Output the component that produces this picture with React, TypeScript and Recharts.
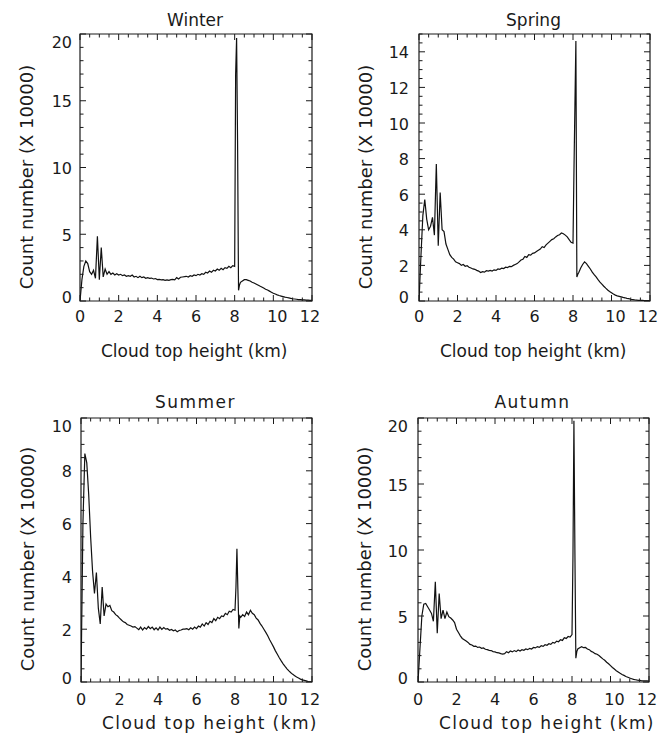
import React from "react";
import { LineChart, Line, XAxis, YAxis, ReferenceArea } from "recharts";

// cloud top height bins (km)
const heights = [
  0, 0.1, 0.2, 0.3, 0.4, 0.5, 0.6, 0.7, 0.8, 0.9,
  1.0, 1.1, 1.2, 1.3, 1.4, 1.5, 1.6, 1.7, 1.8, 1.9,
  2.0, 2.1, 2.2, 2.3, 2.4, 2.5, 2.6, 2.7, 2.8, 2.9,
  3.0, 3.1, 3.2, 3.3, 3.4, 3.5, 3.6, 3.7, 3.8, 3.9,
  4.0, 4.1, 4.2, 4.3, 4.4, 4.5, 4.6, 4.7, 4.8, 4.9,
  5.0, 5.1, 5.2, 5.3, 5.4, 5.5, 5.6, 5.7, 5.8, 5.9,
  6.0, 6.1, 6.2, 6.3, 6.4, 6.5, 6.6, 6.7, 6.8, 6.9,
  7.0, 7.1, 7.2, 7.3, 7.4, 7.5, 7.6, 7.7, 7.8, 7.9,
  8.0, 8.05, 8.1, 8.15, 8.2, 8.25, 8.3,
  8.4, 8.5, 8.6, 8.7, 8.8, 8.9,
  9.0, 9.1, 9.2, 9.3, 9.4, 9.5, 9.6, 9.7, 9.8, 9.9,
  10.0, 10.1, 10.2, 10.3, 10.4, 10.5, 10.6, 10.7, 10.8, 10.9,
  11.0, 11.1, 11.2, 11.3, 11.4, 11.5, 11.6, 11.7, 11.8, 11.9,
  12.0,
];

// counts (x 10000)
const winter = [
  0, 1.6, 2.6, 3.0, 2.8, 2.2, 2.0, 2.3, 1.7, 4.85,
  1.6, 4.0, 1.8, 2.4, 2.0, 2.2, 2.0, 2.1, 1.95, 2.05,
  1.95, 2.0, 1.9, 1.95, 1.85, 1.9, 1.85, 1.95, 1.8, 1.85,
  1.75, 1.85, 1.75, 1.8, 1.7, 1.75, 1.7, 1.72, 1.65, 1.68,
  1.6, 1.62, 1.58, 1.6, 1.55, 1.58, 1.55, 1.6, 1.62, 1.58,
  1.75, 1.65, 1.78, 1.8, 1.82, 1.85, 1.8, 1.9, 1.85, 1.95,
  1.9, 2.0, 1.95, 2.05, 2.0, 2.15, 2.1, 2.25, 2.15, 2.3,
  2.25, 2.4, 2.3, 2.45, 2.35, 2.5, 2.45, 2.6, 2.5, 2.65,
  2.6, 17, 19.7, 12, 0.8, 1.2, 1.4,
  1.5, 1.6, 1.6, 1.55, 1.5, 1.4,
  1.35, 1.28, 1.2, 1.12, 1.05, 0.97, 0.88, 0.82, 0.74, 0.66,
  0.58, 0.52, 0.46, 0.41, 0.37, 0.33, 0.29, 0.26, 0.23, 0.2,
  0.17, 0.15, 0.13, 0.11, 0.1, 0.09, 0.08, 0.07, 0.06, 0.05,
  0.05,
];

const spring = [
  0, 2.5, 4.8, 5.7, 4.6, 4.0, 4.2, 4.7, 3.7, 7.7,
  3.1, 6.1, 4.0, 3.9, 3.2, 2.9, 2.6, 2.45, 2.35, 2.2,
  2.15, 2.1, 2.0, 2.05, 1.95, 1.98, 1.9, 1.85, 1.8, 1.78,
  1.72, 1.68, 1.6, 1.65, 1.62, 1.7, 1.68, 1.72, 1.68, 1.75,
  1.72, 1.8, 1.78, 1.85, 1.82, 1.9, 1.88, 1.95, 1.93, 2.0,
  2.05, 2.1, 2.2, 2.3, 2.35, 2.5, 2.45, 2.6, 2.58, 2.68,
  2.7, 2.78, 2.85, 2.92, 3.05, 3.0, 3.15, 3.25, 3.35, 3.45,
  3.5, 3.6, 3.68, 3.72, 3.82, 3.78, 3.7, 3.6, 3.45, 3.3,
  3.25, 7.3, 11, 14.6, 1.35, 1.5, 1.6,
  1.85, 2.05, 2.2, 2.1, 1.95, 1.8,
  1.62, 1.48, 1.35, 1.2, 1.06, 0.95, 0.83, 0.72, 0.62, 0.53,
  0.46, 0.39, 0.33, 0.29, 0.26, 0.23, 0.2, 0.18, 0.15, 0.13,
  0.1, 0.08, 0.06, 0.05, 0.04, 0.03, 0.03, 0.02, 0.02, 0.02,
  0.02,
];

const summer = [
  0, 6.0, 8.65, 8.3, 7.1, 5.5, 4.2, 3.35, 4.15, 2.8,
  2.2, 3.6, 2.5, 2.95, 2.85, 2.9, 2.7, 2.65, 2.55, 2.5,
  2.42, 2.35, 2.28, 2.25, 2.18, 2.15, 2.12, 2.08, 2.1, 2.04,
  1.98, 2.08, 1.97, 2.06, 2.0, 2.1, 2.02, 2.08, 1.98, 2.05,
  1.97, 2.08, 1.99, 2.06, 2.0, 2.02, 1.96, 1.99, 1.94, 1.97,
  1.9, 1.95, 1.97, 2.0, 2.0, 2.02, 1.98, 2.05, 2.0, 2.08,
  2.02, 2.12, 2.08, 2.2, 2.12, 2.25, 2.18, 2.3, 2.25, 2.4,
  2.32, 2.45, 2.4, 2.5, 2.48, 2.6, 2.55, 2.68, 2.65, 2.75,
  2.72, 3.6, 5.05, 3.5, 2.03, 2.5, 2.45,
  2.55, 2.48, 2.65, 2.55, 2.72, 2.6,
  2.55, 2.42, 2.35, 2.22, 2.12, 2.0, 1.88, 1.75, 1.6, 1.47,
  1.33, 1.18, 1.05, 0.92, 0.8, 0.69, 0.59, 0.5, 0.42, 0.35,
  0.29, 0.24, 0.19, 0.15, 0.11, 0.08, 0.06, 0.04, 0.02, 0.01,
  0,
];

const autumn = [
  0, 2.5, 5.0, 5.9, 5.95, 5.7, 5.45, 5.2, 4.6, 7.6,
  3.7, 6.7, 4.8, 5.45, 4.8, 5.3, 4.95, 4.85, 4.7, 4.5,
  4.0, 3.75, 3.5, 3.3, 3.2, 3.1, 3.0, 2.85, 2.8, 2.7,
  2.72, 2.62, 2.65, 2.55, 2.58, 2.48, 2.45, 2.4, 2.38, 2.3,
  2.28, 2.22, 2.2, 2.15, 2.12, 2.15, 2.3, 2.22, 2.35, 2.28,
  2.38, 2.3, 2.42, 2.35, 2.45, 2.4, 2.5, 2.45, 2.55, 2.5,
  2.62, 2.58, 2.68, 2.62, 2.75, 2.7, 2.82, 2.78, 2.9, 2.85,
  3.0, 2.95, 3.1, 3.05, 3.2, 3.15, 3.35, 3.3, 3.45, 3.4,
  3.6, 9.5, 19.8, 10, 1.8, 2.3, 2.5,
  2.6, 2.68, 2.6, 2.62, 2.5, 2.45,
  2.32, 2.25, 2.15, 2.1, 2.0, 1.88, 1.75, 1.65, 1.5, 1.38,
  1.24, 1.1, 0.98, 0.86, 0.76, 0.66, 0.57, 0.5, 0.42, 0.36,
  0.3, 0.25, 0.2, 0.17, 0.14, 0.12, 0.1, 0.09, 0.08, 0.08,
  0.07,
];

const xMajorTicks = [0, 2, 4, 6, 8, 10, 12];
const winterTicks = [0, 5, 10, 15, 20];
const springTicks = [0, 2, 4, 6, 8, 10, 12, 14];
const summerTicks = [0, 2, 4, 6, 8, 10];
const autumnTicks = [0, 5, 10, 15, 20];

const FONT = "'DejaVu Sans', Verdana, sans-serif";
const INK = "#1a1a1a";
const ML = 80;
const MT = 40;
const MR = 15;
const MB = 60;
const MAJOR_LEN = 6;
const MINOR_LEN = 3.5;

function steps(max: number, step: number) {
  const out: number[] = [];
  for (let i = 0; i * step <= max + 1e-9; i++) out.push(+(i * step).toFixed(3));
  return out;
}

const isIn = (list: number[], v: number) => list.some((m) => Math.abs(m - v) < 1e-6);

function makeXTick(plotH: number, labelGap: number) {
  return (props: any) => {
    const { x, y, payload } = props;
    const v = payload.value;
    const major = isIn(xMajorTicks, v);
    const len = major ? MAJOR_LEN : MINOR_LEN;
    // the source figure nudges the two-digit labels a little
    const dx = v === 10 ? 4 : v === 12 ? -2 : 0;
    return (
      <g>
        <line x1={x} y1={y} x2={x} y2={y - len} stroke={INK} strokeWidth={1} />
        <line x1={x} y1={y - plotH} x2={x} y2={y - plotH + len} stroke={INK} strokeWidth={1} />
        {major && (
          <text x={x + dx} y={y + labelGap} textAnchor="middle" dominantBaseline="central" fontSize={16} fontFamily={FONT} fill={INK}>
            {v}
          </text>
        )}
      </g>
    );
  };
}

function makeYTick(plotW: number, plotH: number, major: number[], gap: number) {
  return (props: any) => {
    const { x, y, payload } = props;
    const v = payload.value;
    const isMajor = isIn(major, v);
    const len = isMajor ? MAJOR_LEN : MINOR_LEN;
    const ly = Math.min(Math.max(y + 1, MT + 8), MT + plotH - 4);
    return (
      <g>
        <line x1={x} y1={y} x2={x + len} y2={y} stroke={INK} strokeWidth={1} />
        <line x1={x + plotW} y1={y} x2={x + plotW - len} y2={y} stroke={INK} strokeWidth={1} />
        {isMajor && (
          <text x={x - gap} y={ly} textAnchor="end" dominantBaseline="central" fontSize={16} fontFamily={FONT} fill={INK}>
            {v}
          </text>
        )}
      </g>
    );
  };
}

interface PanelProps {
  title: string;
  values: number[];
  ymax: number;
  yMajor: number[];
  yMinor: number;
  box: { x: number; y: number; w: number; h: number };
  bottomRow: boolean;
  yGap: number;
}

function Panel({ title, values, ymax, yMajor, yMinor, box, bottomRow, yGap }: PanelProps) {
  const data = heights.map((h, i) => ({ h, v: values[i] }));
  const spacing = bottomRow ? 1.5 : 0;
  return (
    <>
      <div
        style={{
          position: "absolute",
          left: box.x + box.w / 2 - 1,
          top: box.y - (bottomRow ? 16 : 14),
          transform: "translate(-50%, -50%)",
          fontSize: 17,
          lineHeight: 1,
          letterSpacing: spacing,
          whiteSpace: "nowrap",
          color: INK,
        }}
      >
        {title}
      </div>
      <div
        style={{
          position: "absolute",
          left: box.x - 53,
          top: box.y + box.h / 2 + 9,
          transform: "translate(-50%, -50%) rotate(-90deg)",
          fontSize: 18,
          lineHeight: 1,
          whiteSpace: "nowrap",
          color: INK,
        }}
      >
        Count number (X 10000)
      </div>
      <div
        style={{
          position: "absolute",
          left: box.x + 21,
          top: box.y + box.h + (bottomRow ? 41 : 50),
          transform: "translateY(-50%)",
          fontSize: 17,
          lineHeight: 1,
          letterSpacing: bottomRow ? 1.4 : 0,
          whiteSpace: "nowrap",
          color: INK,
        }}
      >
        Cloud top height (km)
      </div>
      <div style={{ position: "absolute", left: box.x - ML, top: box.y - MT }}>
        <LineChart
          width={box.w + ML + MR}
          height={box.h + MT + MB}
          data={data}
          margin={{ top: MT, right: MR, bottom: 0, left: 0 }}
        >
          <XAxis
            dataKey="h"
            type="number"
            domain={[0, 12]}
            ticks={steps(12, 0.5)}
            interval={0}
            allowDataOverflow
            axisLine={false}
            tickLine={false}
            tickSize={0}
            tickMargin={0}
            height={MB}
            tick={makeXTick(box.h, bottomRow ? 17 : 15)}
          />
          <YAxis
            type="number"
            domain={[0, ymax]}
            ticks={steps(ymax, yMinor)}
            interval={0}
            allowDataOverflow
            axisLine={false}
            tickLine={false}
            tickSize={0}
            tickMargin={0}
            width={ML}
            tick={makeYTick(box.w, box.h, yMajor, yGap)}
          />
          <ReferenceArea x1={0} x2={12} y1={0} y2={ymax} fill="none" stroke={INK} strokeWidth={1.2} />
          <Line
            type="linear"
            dataKey="v"
            stroke="#111"
            strokeWidth={1.2}
            dot={false}
            activeDot={false}
            isAnimationActive={false}
          />
        </LineChart>
      </div>
    </>
  );
}

export default function App() {
  return (
    <div
      style={{
        position: "absolute",
        left: 0,
        top: 0,
        width: 672,
        height: 734,
        background: "#fff",
        fontFamily: FONT,
        overflow: "hidden",
      }}
    >
      <Panel title="Winter" values={winter} ymax={20} yMajor={winterTicks} yMinor={1}
        box={{ x: 80, y: 34, w: 232, h: 267 }} bottomRow={false} yGap={8} />
      <Panel title="Spring" values={spring} ymax={15} yMajor={springTicks} yMinor={0.5}
        box={{ x: 419, y: 34, w: 231, h: 267 }} bottomRow={false} yGap={10} />
      <Panel title="Summer" values={summer} ymax={10} yMajor={summerTicks} yMinor={0.5}
        box={{ x: 81, y: 418, w: 231, h: 264 }} bottomRow={true} yGap={9} />
      <Panel title="Autumn" values={autumn} ymax={20} yMajor={autumnTicks} yMinor={1}
        box={{ x: 418, y: 418, w: 231, h: 264 }} bottomRow={true} yGap={10} />
    </div>
  );
}
